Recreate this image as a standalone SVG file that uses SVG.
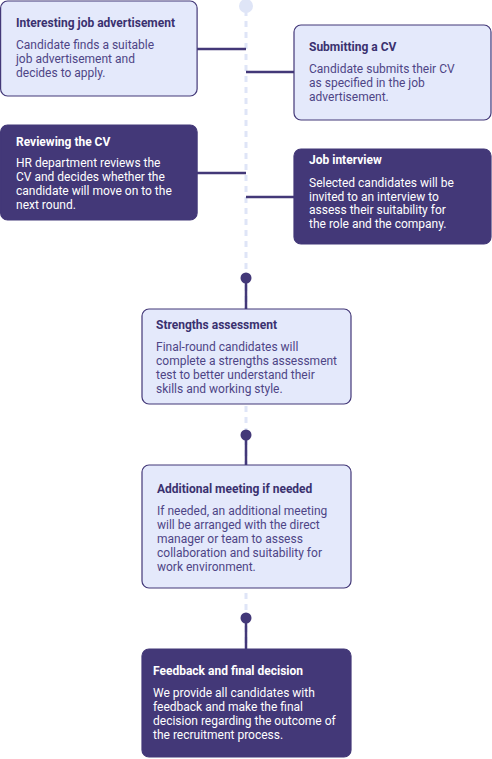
<svg xmlns="http://www.w3.org/2000/svg" width="492" height="759" viewBox="0 0 492 759">
<style>
.light{fill:#e4e9fb;stroke:#433878;stroke-width:1.2}
.dark{fill:#433878;stroke:#433878;stroke-width:1.2}
.t{font-family:Roboto,"Liberation Sans",sans-serif;font-size:12px;font-weight:bold}
.b{font-family:Roboto,"Liberation Sans",sans-serif;font-size:12px}
.lt{fill:#3a316f}
.lb{fill:#4e4586}
.w{fill:#ffffff}
.conn{stroke:#433878;stroke-width:2.5;fill:none}
.dash{stroke:#dfe5f7;stroke-width:3;stroke-dasharray:6 5;fill:none}
</style>
<rect width="492" height="759" fill="#ffffff"/>
<g id="connectors">
<line class="dash" x1="246" y1="10" x2="246" y2="648"/>
<circle cx="246" cy="6" r="7" fill="#dfe5f7"/>
<line class="conn" x1="197" y1="49" x2="246" y2="49"/>
<line class="conn" x1="246" y1="72" x2="294" y2="72"/>
<line class="conn" x1="197" y1="173" x2="246" y2="173"/>
<line class="conn" x1="246" y1="197" x2="294" y2="197"/>
<circle cx="246" cy="278" r="5.5" fill="#433878"/>
<line class="conn" x1="246" y1="283" x2="246" y2="309"/>
<circle cx="246" cy="435" r="5.5" fill="#433878"/>
<line class="conn" x1="246" y1="440" x2="246" y2="465"/>
<circle cx="246" cy="618" r="5.5" fill="#433878"/>
<line class="conn" x1="246" y1="623" x2="246" y2="649"/>
</g>
<g id="n1">
<rect class="light" x="0.6" y="1" width="196.5" height="95" rx="7"/>
<text class="t lt" x="16" y="27">Interesting job advertisement</text>
<text class="b lb" x="16" y="49">Candidate finds a suitable</text>
<text class="b lb" x="16" y="63">job advertisement and</text>
<text class="b lb" x="16" y="77">decides to apply.</text>
</g>
<g id="n2">
<rect class="light" x="294" y="25" width="197" height="95" rx="7"/>
<text class="t lt" x="309" y="51">Submitting a CV</text>
<text class="b lb" x="309" y="73">Candidate submits their CV</text>
<text class="b lb" x="309" y="87">as specified in the job</text>
<text class="b lb" x="309" y="101">advertisement.</text>
</g>
<g id="n3">
<rect class="dark" x="0.6" y="125" width="196.5" height="95" rx="7"/>
<text class="t w" x="16" y="146">Reviewing the CV</text>
<text class="b w" x="16" y="167">HR department reviews the</text>
<text class="b w" x="16" y="181">CV and decides whether the</text>
<text class="b w" x="16" y="195">candidate will move on to the</text>
<text class="b w" x="16" y="209">next round.</text>
</g>
<g id="n4">
<rect class="dark" x="294" y="149" width="197" height="95" rx="7"/>
<text class="t w" x="309" y="164">Job interview</text>
<text class="b w" x="309" y="187">Selected candidates will be</text>
<text class="b w" x="309" y="201">invited to an interview to</text>
<text class="b w" x="309" y="214">assess their suitability for</text>
<text class="b w" x="309" y="228">the role and the company.</text>
</g>
<g id="n5">
<rect class="light" x="142" y="309" width="209" height="95" rx="7"/>
<text class="t lt" x="156" y="329">Strengths assessment</text>
<text class="b lb" x="156" y="351">Final-round candidates will</text>
<text class="b lb" x="156" y="365">complete a strengths assessment</text>
<text class="b lb" x="156" y="379">test to better understand their</text>
<text class="b lb" x="156" y="393">skills and working style.</text>
</g>
<g id="n6">
<rect class="light" x="142" y="465" width="209" height="123" rx="7"/>
<text class="t lt" x="157" y="493">Additional meeting if needed</text>
<text class="b lb" x="157" y="515">If needed, an additional meeting</text>
<text class="b lb" x="157" y="529">will be arranged with the direct</text>
<text class="b lb" x="157" y="543">manager or team to assess</text>
<text class="b lb" x="157" y="557">collaboration and suitability for</text>
<text class="b lb" x="157" y="571">work environment.</text>
</g>
<g id="n7">
<rect class="dark" x="142" y="649" width="209" height="108" rx="7"/>
<text class="t w" x="153" y="675">Feedback and final decision</text>
<text class="b w" x="153" y="697">We provide all candidates with</text>
<text class="b w" x="153" y="711">feedback and make the final</text>
<text class="b w" x="153" y="725">decision regarding the outcome of</text>
<text class="b w" x="153" y="739">the recruitment process.</text>
</g>
</svg>
